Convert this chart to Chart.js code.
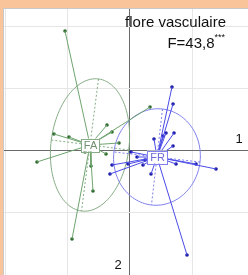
<!DOCTYPE html>
<html>
<head>
<meta charset="utf-8">
<script src="https://cdn.jsdelivr.net/npm/chart.js@4/dist/chart.umd.min.js"></script>
<style>
  html, body { margin: 0; padding: 0; background: #fff; overflow: hidden; }
  canvas { display: block; }
</style>
</head>
<body>
<canvas id="plan" width="248" height="275"></canvas>
<script>
// groupes et centres de gravité
const groupes = ['FA', 'FR'];
const centreX = [-0.645, 0.435];
const centreY = [0.097, -0.097];

// relevés (coordonnées sur les axes 1 et 2)
const faX = [-1.048, -0.371, -0.290, -1.226, -0.984, -1.500, -0.387, -0.629, -0.597, -0.935, -0.726, -0.177, 0.323];
const faY = [1.935, 0.419, 0.306, 0.274, 0.226, -0.177, -0.048, -0.242, -0.645, -1.419, -0.016, 0.129, 0.710];
const frX = [0.677, 0.694, 0.710, 0.581, 0.532, 0.387, 0.694, 0.742, 1.065, 1.387, 0.339, 0.919, 0.016, 0.113, 0.242, 0.210, -0.032, -0.290, -0.323];
const frY = [1.032, 0.758, 0.290, 0.290, 0.242, 0.194, 0.081, -0.210, -0.210, -0.290, -0.371, -1.677, -0.016, -0.097, -0.145, -0.226, -0.210, -0.226, -0.371];

// demi-axes des ellipses (vecteurs)
const grandAxeX = [0.137, 0.089];
const grandAxeY = [1.065, 0.774];
const petitAxeX = [0.624, 0.694];
const petitAxeY = [-0.081, -0.081];

const graduations = [-2, -1, 0, 1, 2];

const couleurLigne = ['#6fa46f', '#4b4be8'];
const couleurPoint = ['#2f6b2f', '#1d1daa'];
const couleurEllipse = ['#86ad86', '#8080ee'];

function etoile(xs, ys, g) {
  const pts = [];
  for (let i = 0; i < xs.length; i++) {
    pts.push({x: centreX[g], y: centreY[g]});
    pts.push({x: xs[i], y: ys[i]});
    pts.push({x: xs[i], y: null});
  }
  return pts;
}

function axesEllipse(g) {
  const c = {x: centreX[g], y: centreY[g]};
  return [
    {x: c.x + grandAxeX[g], y: c.y + grandAxeY[g]},
    {x: c.x - grandAxeX[g], y: c.y - grandAxeY[g]},
    {x: c.x, y: null},
    {x: c.x + petitAxeX[g], y: c.y + petitAxeY[g]},
    {x: c.x - petitAxeX[g], y: c.y - petitAxeY[g]}
  ];
}

function nuage(xs, ys) {
  return xs.map((v, i) => ({x: v, y: ys[i]}));
}

const donnees = {
  datasets: [
    { data: axesEllipse(0), borderColor: couleurEllipse[0], borderDash: [2, 2], borderWidth: 1, pointRadius: 0, showLine: true, spanGaps: false },
    { data: axesEllipse(1), borderColor: couleurEllipse[1], borderDash: [2, 2], borderWidth: 1, pointRadius: 0, showLine: true, spanGaps: false },
    { data: etoile(faX, faY, 0), borderColor: couleurLigne[0], borderWidth: 1, pointRadius: 0, showLine: true, spanGaps: false },
    { data: etoile(frX, frY, 1), borderColor: couleurLigne[1], borderWidth: 1, pointRadius: 0, showLine: true, spanGaps: false },
    { data: nuage(faX, faY), backgroundColor: couleurPoint[0], borderWidth: 0, pointRadius: 1.8 },
    { data: nuage(frX, frY), backgroundColor: couleurPoint[1], borderWidth: 0, pointRadius: 1.8 }
  ]
};

const fond = {
  id: 'fond',
  beforeDraw(chart) {
    const c = chart.ctx;
    c.save();
    c.fillStyle = '#f9c49a';
    c.fillRect(0, 0, chart.width, chart.height);
    c.fillStyle = '#ffffff';
    c.fillRect(3, 8, chart.width, chart.height);
    c.strokeStyle = '#c8c8c8';
    c.lineWidth = 1;
    c.strokeRect(3.5, 8.5, chart.width, chart.height);
    c.restore();
  }
};

const ellipses = {
  id: 'ellipses',
  beforeDatasetsDraw(chart) {
    const c = chart.ctx, sx = chart.scales.x, sy = chart.scales.y;
    c.save();
    c.lineWidth = 1;
    groupes.forEach((g, k) => {
      c.strokeStyle = couleurEllipse[k];
      c.beginPath();
      for (let i = 0; i <= 120; i++) {
        const t = i / 120 * Math.PI * 2;
        const px = centreX[k] + grandAxeX[k] * Math.cos(t) + petitAxeX[k] * Math.sin(t);
        const py = centreY[k] + grandAxeY[k] * Math.cos(t) + petitAxeY[k] * Math.sin(t);
        const X = sx.getPixelForValue(px), Y = sy.getPixelForValue(py);
        if (i === 0) c.moveTo(X, Y); else c.lineTo(X, Y);
      }
      c.stroke();
    });
    c.restore();
  }
};

const etiquettes = {
  id: 'etiquettes',
  afterDatasetsDraw(chart) {
    const c = chart.ctx, sx = chart.scales.x, sy = chart.scales.y;
    c.save();
    c.font = '11px "Liberation Sans", Arial, sans-serif';
    c.textAlign = 'center';
    c.textBaseline = 'middle';
    groupes.forEach((g, k) => {
      const X = Math.round(sx.getPixelForValue(centreX[k])), Y = Math.round(sy.getPixelForValue(centreY[k]));
      const w = Math.round(c.measureText(g).width + 5), h = 13;
      c.fillStyle = '#ffffff';
      c.fillRect(X - w / 2, Y - h / 2, w, h);
      c.strokeStyle = couleurEllipse[k];
      c.strokeRect(Math.round(X - w / 2) + 0.5, Math.round(Y - h / 2) + 0.5, w, h);
      c.fillStyle = k === 0 ? '#6f8f6f' : '#6a6ad8';
      c.fillText(g, X + 0.5, Y + 1);
    });

    // titre et statistique
    c.fillStyle = '#111';
    c.textAlign = 'right';
    c.textBaseline = 'alphabetic';
    c.font = '15px "Liberation Sans", Arial, sans-serif';
    c.fillText('flore vasculaire', 226, 27);
    c.font = '9px "Liberation Sans", Arial, sans-serif';
    c.fillText('***', 225, 40);
    const wEt = c.measureText('***').width;
    c.font = '15px "Liberation Sans", Arial, sans-serif';
    c.fillText('F=43,8', 225 - wEt, 48);

    // numéros des axes
    c.font = '13px "Liberation Sans", Arial, sans-serif';
    c.textAlign = 'center';
    c.fillText('1', 239, 143);
    c.fillText('2', 118, 269);
    c.restore();
  }
};

const grille = {
  display: true,
  grid: {
    drawTicks: false,
    tickLength: 0,
    color: (ctx) => (ctx.tick && ctx.tick.value === 0) ? '#6a6a6a' : '#e6e6e6',
    lineWidth: 1
  },
  border: { display: false },
  ticks: { display: false, padding: 0 },
  afterBuildTicks: (axe) => { axe.ticks = graduations.map(v => ({value: v})); }
};

new Chart(document.getElementById('plan').getContext('2d'), {
  type: 'scatter',
  data: donnees,
  options: {
    responsive: false,
    animation: false,
    layout: { autoPadding: false, padding: { left: 4, top: 9, right: 0, bottom: 0 } },
    plugins: { legend: { display: false }, tooltip: { enabled: false } },
    scales: {
      x: Object.assign({ type: 'linear', min: -2.032, max: 1.903 }, grille),
      y: Object.assign({ type: 'linear', min: -2.0, max: 2.29 }, grille)
    }
  },
  plugins: [fond, ellipses, etiquettes]
});
</script>
</body>
</html>
